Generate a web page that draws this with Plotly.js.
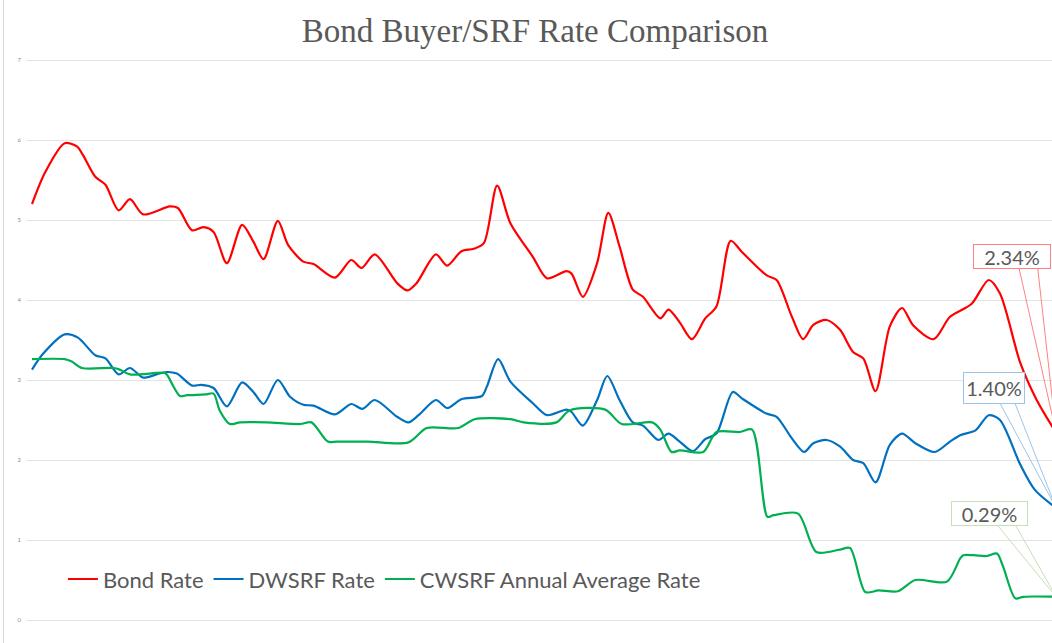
<!DOCTYPE html>
<html>
<head>
<meta charset="utf-8">
<script src="https://cdn.plot.ly/plotly-3.0.1.min.js"></script>
<style>html,body{margin:0;padding:0;background:#fff;}#chart{width:1052px;height:643px;}</style>
</head>
<body>
<div id="chart"></div>
<script>
// ---- data (time period index, rate in %) ----
const bondPeriod = [0,1.3,3.2,4.4,5.0,6.2,7.2,8.5,9.6,10.9,13.5,14.3,15.7,16.8,17.8,19.1,20.6,21.7,22.7,24.1,25.1,26.6,27.6,29.7,31.3,32.3,33.6,35.8,36.8,37.7,39.6,40.7,42.1,43.3,44.3,45.6,46.9,49.1,50.5,52.4,52.9,54.0,55.4,56.5,57.6,58.9,59.9,61.6,62.4,63.5,64.7,66.0,67.1,68.5,69.6,72.0,73.0,74.5,75.6,76.6,77.9,79.2,80.5,81.5,82.7,84.1,85.3,86.4,88.4,90.0,92.1,93.8,94.9,96.9,98.5,100.4];
const bondRate   = [5.20,5.60,5.96,5.92,5.81,5.54,5.44,5.12,5.26,5.07,5.17,5.15,4.87,4.91,4.85,4.46,4.94,4.73,4.51,4.99,4.69,4.48,4.45,4.28,4.50,4.40,4.57,4.21,4.12,4.21,4.57,4.43,4.61,4.64,4.71,5.43,4.96,4.54,4.27,4.36,4.33,4.04,4.46,5.09,4.67,4.13,4.04,3.77,3.88,3.72,3.51,3.77,3.92,4.74,4.60,4.31,4.25,3.79,3.51,3.69,3.75,3.63,3.35,3.27,2.86,3.67,3.90,3.68,3.51,3.79,3.95,4.25,4.08,3.21,2.75,2.34];

const dwsrfPeriod = [0,1.1,3.2,4.5,6.2,7.2,8.5,9.6,10.9,12.2,13.2,14.2,15.7,16.6,17.8,19.1,20.6,21.7,22.7,24.1,25.3,26.6,27.6,29.7,31.3,32.4,33.6,35.8,36.9,37.9,39.6,40.7,42.1,44.1,44.6,45.7,46.9,49.1,50.5,52.4,52.9,54.0,55.4,56.4,57.6,58.9,59.9,61.4,62.4,63.5,64.8,66.0,67.1,68.7,69.6,72.0,73.0,74.5,75.7,76.6,77.9,79.2,80.5,81.5,82.7,84.1,85.3,86.6,88.5,90.0,91.0,92.5,93.8,94.9,96.9,98.3,100.4];
const dwsrfRate   = [3.13,3.33,3.57,3.53,3.31,3.27,3.07,3.15,3.03,3.07,3.10,3.08,2.93,2.94,2.90,2.67,2.97,2.85,2.70,3.00,2.79,2.69,2.68,2.57,2.70,2.64,2.75,2.54,2.47,2.56,2.75,2.65,2.76,2.80,2.92,3.26,2.98,2.71,2.56,2.63,2.60,2.43,2.75,3.05,2.75,2.47,2.43,2.25,2.33,2.23,2.11,2.26,2.33,2.85,2.77,2.58,2.54,2.27,2.10,2.21,2.25,2.17,2.00,1.96,1.72,2.19,2.33,2.21,2.10,2.23,2.31,2.37,2.56,2.50,1.94,1.63,1.40];

const cwsrfPeriod = [0,3.2,3.9,4.9,8.0,8.6,9.6,12.9,13.2,14.5,15.2,17.0,17.8,18.4,19.4,20.4,23.0,26.3,27.4,29.0,29.9,32.9,36.9,38.7,41.8,43.4,46.9,48.2,51.4,52.7,56.2,57.8,60.8,61.6,62.7,63.5,65.8,67.1,69.4,70.6,72.1,72.7,75.1,76.9,79.2,80.2,81.7,83.0,84.9,86.6,89.7,91.0,91.3,92.3,93.6,94.6,95.2,96.4,97.2,100.4];
const cwsrfRate   = [3.26,3.26,3.23,3.15,3.15,3.13,3.07,3.09,3.07,2.80,2.81,2.82,2.83,2.62,2.45,2.47,2.47,2.45,2.47,2.23,2.23,2.23,2.22,2.40,2.40,2.51,2.51,2.47,2.47,2.62,2.63,2.45,2.47,2.38,2.10,2.12,2.10,2.35,2.35,2.38,1.29,1.31,1.33,0.85,0.88,0.90,0.35,0.37,0.36,0.50,0.48,0.77,0.81,0.81,0.80,0.83,0.67,0.27,0.29,0.29];

const seriesNames = ["Bond Rate","DWSRF Rate","CWSRF Annual Average Rate"];
const yTicks = [0,1,2,3,4,5,6,7];

const last = a => a[a.length-1];
const lineStyle = c => ({color:c, width:2.2, shape:"spline", smoothing:0.8});

const traces = [
  {x:bondPeriod, y:bondRate, name:seriesNames[0], mode:"lines", line:lineStyle("#ff0000")},
  {x:dwsrfPeriod, y:dwsrfRate, name:seriesNames[1], mode:"lines", line:lineStyle("#0070c0")},
  {x:cwsrfPeriod, y:cwsrfRate, name:seriesNames[2], mode:"lines", line:lineStyle("#00b050")}
];

function callout(txt, cx, cy, w, h, col){
  return {xref:"paper", yref:"paper", x:(cx-26)/1026, y:(624-cy)/567, xanchor:"center", yanchor:"middle",
    text:txt, showarrow:false, width:w-2, height:h-2, bordercolor:col, borderwidth:1, bgcolor:"#ffffff",
    font:{family:"Lato, 'Open Sans', sans-serif", size:20, color:"#595959"}};
}
function wedge(x1,x2,yb,px,py,col){
  return {type:"path", xref:"x", yref:"y",
    path:`M ${x1} ${yb} L ${px} ${py} L ${x2} ${yb}`, line:{color:col, width:1}, layer:"above"};
}
const p2x = px => (px-32)/10.2, p2y = py => (620-py)/80;

const layout = {
  width:1052, height:643,
  margin:{l:26, r:0, t:57, b:19},
  paper_bgcolor:"#ffffff", plot_bgcolor:"#ffffff",
  title:{text:"Bond Buyer/SRF Rate Comparison", x:0.5086, xanchor:"center", y:0.953, yanchor:"middle",
    font:{family:"'Liberation Serif', 'Times New Roman', serif", size:33, color:"#595959"}},
  xaxis:{range:[-0.59,100.0], showgrid:false, zeroline:false, showline:false, showticklabels:false, ticks:"", fixedrange:true},
  yaxis:{range:[-0.05,7.0375], tickvals:yTicks, ticktext:yTicks.map(String), showgrid:true, gridcolor:"#e3e3e3", gridwidth:1,
    zeroline:false, showline:false, ticks:"", ticklabelstandoff:4,
    tickfont:{family:"Lato, sans-serif", size:6, color:"#8c8c8c"}, fixedrange:true},
  showlegend:true,
  legend:{orientation:"h", x:0.036, xanchor:"left", y:0.079, yanchor:"middle", bgcolor:"rgba(0,0,0,0)",
    font:{family:"Lato, 'Open Sans', sans-serif", size:22, color:"#595959"}},
  shapes:[
    {type:"line", xref:"paper", yref:"paper", x0:(3.5-26)/1026, x1:(3.5-26)/1026, y0:(624-643)/567, y1:(624-0)/567, line:{color:"#d9d9d9", width:1}},
    wedge(p2x(1019), p2x(1037.7), p2y(268), last(bondPeriod), last(bondRate), "#ff8080"),
    wedge(p2x(1000), p2x(1015), p2y(403.3), last(dwsrfPeriod), last(dwsrfRate), "#9dc3e6"),
    wedge(p2x(996.7), p2x(1015), p2y(524.3), last(cwsrfPeriod), last(cwsrfRate), "#c5e0b4")
  ],
  annotations:[
    callout(last(bondRate).toFixed(2)+"%", 1012, 256.7, 76, 23, "#ff8080"),
    callout(last(dwsrfRate).toFixed(2)+"%", 994, 388.3, 60, 30, "#9dc3e6"),
    callout(last(cwsrfRate).toFixed(2)+"%", 989.5, 513, 75, 23, "#c5e0b4")
  ]
};

Plotly.newPlot("chart", traces, layout, {displayModeBar:false, staticPlot:true});
</script>
</body>
</html>
